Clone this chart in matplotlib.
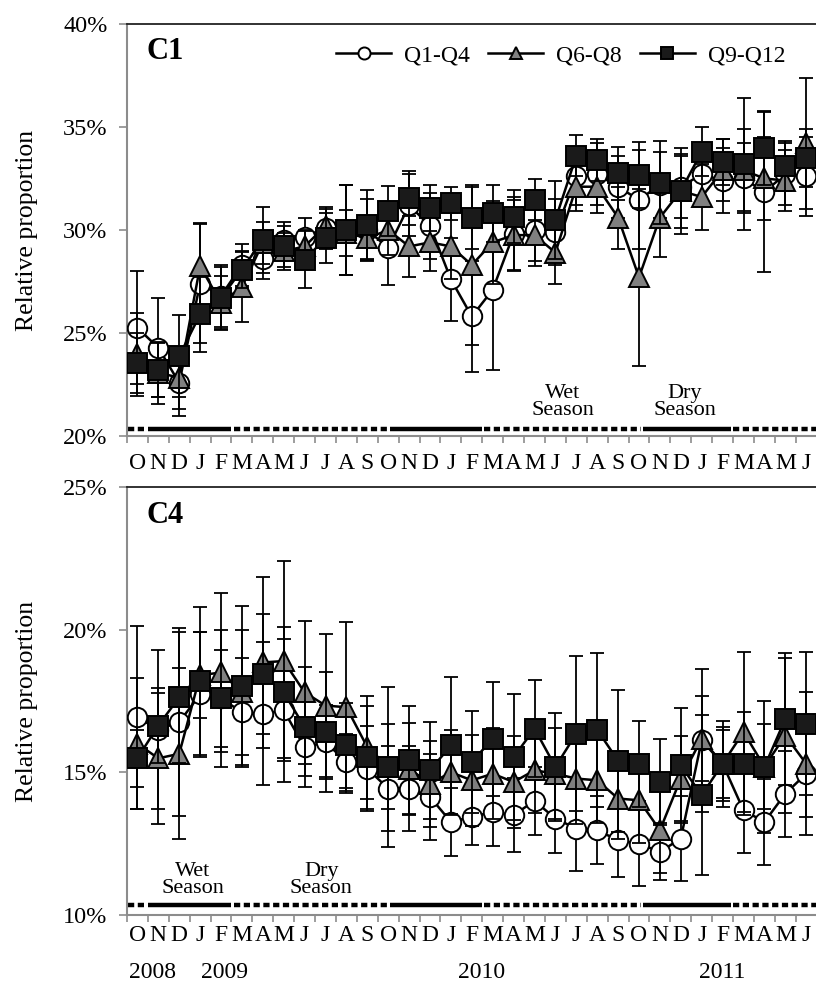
import matplotlib
matplotlib.use('Agg')
import matplotlib.pyplot as plt
from matplotlib.ticker import FuncFormatter, FixedLocator
import numpy as np

plt.rcParams['font.family'] = ['Liberation Serif', 'DejaVu Serif']

months = ['O', 'N', 'D', 'J', 'F', 'M', 'A', 'M', 'J', 'J', 'A', 'S',
          'O', 'N', 'D', 'J', 'F', 'M', 'A', 'M', 'J', 'J', 'A', 'S',
          'O', 'N', 'D', 'J', 'F', 'M', 'A', 'M', 'J']
years = ['2008', '2009', '2010', '2011']
year_pos = [0.74, 4.19, 16.48, 28.0]
series_names = ['Q1-Q4', 'Q6-Q8', 'Q9-Q12']

# C1 panel (relative proportion, %)
c1_q1 = [25.25, 24.28, 22.58, 27.4, 26.8, 28.3, 28.6, 29.5, 29.66, 30.1, 30.0,
         30.0, 29.13, 31.2, 30.2, 27.6, 25.8, 27.1, 29.8, 30.0, 29.9, 32.6,
         32.7, 32.1, 31.46, 32.2, 32.1, 32.7, 32.4, 32.5, 31.85, 32.7, 32.6]
c1_q6 = [23.96, 23.07, 22.83, 28.24, 26.46, 27.24, 29.37, 28.97, 29.2, 30.2,
         29.85, 29.6, 30.0, 29.2, 29.4, 29.2, 28.3, 29.4, 29.75, 29.75, 28.9,
         32.1, 32.1, 30.6, 27.7, 30.6, 31.9, 31.6, 32.9, 32.9, 32.5, 32.4, 34.2]
c1_q9 = [23.55, 23.2, 23.88, 25.9, 26.7, 28.08, 29.53, 29.2, 28.56, 29.6, 30.0,
         30.24, 30.92, 31.56, 31.07, 31.3, 30.6, 30.8, 30.65, 31.46, 30.5, 33.6,
         33.4, 32.75, 32.65, 32.3, 31.9, 33.8, 33.3, 33.2, 34.0, 33.1, 33.5]
c1_q1_err = [2.75, 2.4, 1.6, 2.9, 1.5, 1.0, 1.0, 0.9, 0.9, 1.0, 2.2, 1.5, 1.8,
             1.5, 1.6, 2.0, 2.7, 3.9, 1.8, 1.5, 1.6, 1.4, 1.5, 1.5, 2.4, 1.6,
             1.5, 1.5, 1.6, 1.7, 3.9, 1.5, 1.9]
c1_q6_err = [2.0, 1.5, 1.5, 2.1, 1.3, 1.7, 1.0, 0.9, 0.8, 0.8, 1.1, 1.0, 1.2,
             1.5, 1.4, 1.6, 3.9, 2.0, 1.7, 1.5, 1.5, 1.2, 1.3, 1.5, 4.3, 1.9,
             2.1, 1.6, 1.5, 2.0, 2.0, 1.5, 3.2]
c1_q9_err = [1.45, 1.3, 2.0, 1.8, 1.5, 0.9, 1.6, 1.0, 1.4, 1.2, 2.2, 1.7, 1.2,
             1.3, 1.1, 0.8, 1.5, 1.4, 1.3, 1.0, 1.9, 1.0, 1.0, 1.3, 1.6, 2.0,
             1.8, 1.2, 1.1, 3.2, 1.8, 1.2, 1.4]

# C4 panel (relative proportion, %)
c4_q1 = [16.93, 16.5, 16.76, 17.73, 17.6, 17.1, 17.05, 17.17, 15.88, 16.06,
         15.36, 15.13, 14.43, 14.43, 14.14, 13.26, 13.44, 13.61, 13.5, 14.0,
         13.38, 13.03, 12.97, 12.62, 12.5, 12.21, 12.68, 16.12, 15.3, 13.67,
         13.26, 14.25, 14.95]
c4_q6 = [16.0, 15.49, 15.65, 18.4, 18.5, 17.8, 18.85, 18.9, 17.8, 17.34, 17.28,
         15.88, 15.2, 15.13, 14.6, 15.0, 14.72, 14.95, 14.66, 15.07, 14.95,
         14.78, 14.72, 14.08, 14.02, 12.97, 14.78, 16.18, 15.3, 16.41, 15.2,
         16.29, 15.3]
c4_q9 = [15.49, 16.64, 17.63, 18.2, 17.6, 18.04, 18.45, 17.8, 16.58, 16.4,
         15.94, 15.53, 15.19, 15.42, 15.07, 15.94, 15.36, 16.18, 15.53, 16.53,
         15.19, 16.36, 16.49, 15.4, 15.3, 14.66, 15.24, 14.2, 15.3, 15.3, 15.19,
         16.87, 16.7]
c4_q1_err = [3.2, 2.8, 3.3, 2.2, 2.4, 1.9, 2.5, 2.5, 1.0, 1.3, 1.0, 1.5, 1.5,
             1.5, 1.5, 1.2, 1.0, 1.2, 1.3, 1.2, 1.2, 1.5, 1.2, 1.3, 1.5, 1.0,
             1.5, 2.5, 1.5, 1.5, 1.5, 1.5, 1.5]
c4_q6_err = [2.3, 2.3, 3.0, 1.5, 2.8, 2.2, 3.0, 3.5, 2.5, 2.5, 3.0, 1.8, 1.5,
             1.6, 1.5, 1.5, 1.6, 1.6, 1.6, 1.5, 1.6, 1.6, 1.5, 1.4, 1.5, 1.5,
             1.5, 1.5, 1.2, 2.8, 1.5, 2.7, 2.5]
c4_q9_err = [1.0, 1.3, 2.3, 2.6, 1.7, 2.8, 2.1, 2.3, 2.1, 2.1, 1.5, 1.8, 2.8,
             1.9, 1.7, 2.4, 1.8, 2.0, 2.2, 1.7, 1.9, 2.7, 2.7, 2.5, 1.5, 1.5,
             2.0, 2.8, 1.3, 1.8, 2.3, 2.3, 2.5]

# season bar spans in month-index units
solid_spans = [(0.5, 4.5), (12.1, 16.5), (24.2, 28.4)]
dotted_spans = [(-0.45, 0.4), (4.6, 12.0), (16.6, 24.1), (28.5, 32.6)]

GREY = '#8c8c8c'
styles = [
    dict(marker='o', mfc='white', ms=14, zorder=3),
    dict(marker='^', mfc='#808080', ms=15, zorder=4),
    dict(marker='s', mfc='#1a1a1a', ms=14, zorder=5),
]


def draw_panel(ax, values, errors, ylim, yticks, bar_y, label, label_pad):
    x = np.arange(len(months))
    handles = []
    for vals, errs, st, name in zip(values, errors, styles, series_names):
        ax.errorbar(x, vals, yerr=errs, fmt='none', ecolor='black',
                    elinewidth=1.3, capsize=5, capthick=1.3, zorder=st['zorder'] - 0.5)
        h, = ax.plot(x, vals, color='black', lw=1.8, marker=st['marker'],
                     ms=st['ms'], mfc=st['mfc'], mec='black', mew=1.4,
                     zorder=st['zorder'], label=name)
        handles.append(h)

    for a, b in solid_spans:
        ax.plot([a, b], [bar_y, bar_y], color='black', lw=3.2,
                solid_capstyle='butt', zorder=2)
    for a, b in dotted_spans:
        ax.plot([a, b], [bar_y, bar_y], color='black', lw=3.2,
                linestyle=(0, (1.4, 0.8)), dash_capstyle='butt', zorder=2)

    ax.set_xlim(-0.5, 32.5)
    ax.set_ylim(*ylim)
    ax.yaxis.set_major_locator(FixedLocator(yticks))
    ax.yaxis.set_major_formatter(FuncFormatter(lambda v, p: f'{v:.0f}%'))
    ax.set_xticks(x)
    ax.set_xticklabels(months)
    ax.set_xticks(np.arange(-0.5, 33, 1), minor=True)
    ax.tick_params(axis='x', which='major', length=0, pad=label_pad, labelsize=17)
    ax.tick_params(axis='x', which='minor', length=5, width=1.2, color=GREY)
    ax.tick_params(axis='y', which='major', length=6, width=1.2, color=GREY,
                   pad=8, labelsize=17.5)
    for side in ['left', 'bottom']:
        ax.spines[side].set_color(GREY)
        ax.spines[side].set_linewidth(1.5)
    ax.spines['top'].set_color('#222222')
    ax.spines['top'].set_linewidth(1.3)
    ax.spines['right'].set_visible(False)
    ax.set_ylabel('Relative proportion', fontsize=18.5, labelpad=18)
    ax.text(0.45, ylim[1] - (ylim[1] - ylim[0]) * 0.066, label,
            fontsize=22, fontweight='bold', va='center', ha='left')
    return handles


fig = plt.figure(figsize=(8.16, 9.83), dpi=100)
ax1 = fig.add_axes([0.1556, 0.5565, 0.8452, 0.4191])
ax2 = fig.add_axes([0.1556, 0.0692, 0.8452, 0.4354])

handles = draw_panel(ax1, [c1_q1, c1_q6, c1_q9], [c1_q1_err, c1_q6_err, c1_q9_err],
                     (20, 40), [20, 25, 30, 35, 40], 20.34, 'C1', 12)
draw_panel(ax2, [c4_q1, c4_q6, c4_q9], [c4_q1_err, c4_q6_err, c4_q9_err],
           (10, 25), [10, 15, 20, 25], 10.35, 'C4', 7)

ax1.legend(handles=handles, loc='upper right', ncol=3, frameon=False,
           fontsize=17, handlelength=2.3, handletextpad=0.55, columnspacing=0.8,
           bbox_to_anchor=(0.985, 1.0), markerscale=0.62)

for ax, xs, yv in [(ax1, (20.36, 26.2), 21.65), (ax2, (2.66, 8.8), 11.22)]:
    ax.text(xs[0], yv, 'Wet\nSeason', ha='center', va='center', fontsize=16,
            linespacing=0.85)
    ax.text(xs[1], yv, 'Dry\nSeason', ha='center', va='center', fontsize=16,
            linespacing=0.85)

for yr, pos in zip(years, year_pos):
    ax2.text(pos, 7.97, yr, ha='center', va='center', fontsize=17, clip_on=False)

fig.savefig('out.png', dpi=100)
